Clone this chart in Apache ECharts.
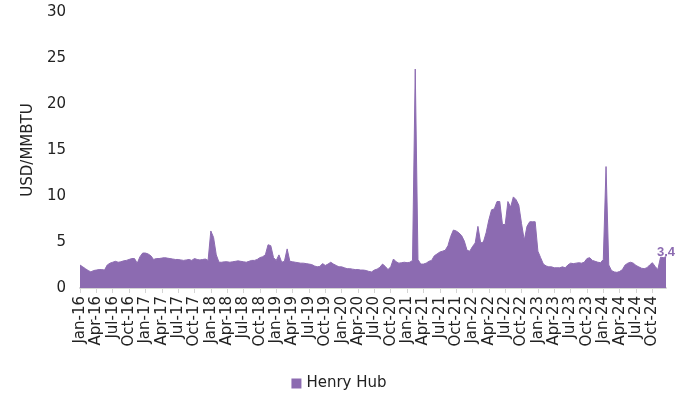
<!DOCTYPE html>
<html>
<head>
<meta charset="utf-8">
<script src="https://cdn.jsdelivr.net/npm/echarts@6/dist/echarts.min.js"></script>
<style>
  html, body { margin: 0; padding: 0; background: #fff; }
  #chart { width: 678px; height: 402px; }
</style>
</head>
<body>
<div id="chart"></div>
<script>
// Henry Hub spot price, USD/MMBTU, two readings per month (1st and 16th), Jan 2016 - Dec 2024
const years = [2016, 2017, 2018, 2019, 2020, 2021, 2022, 2023, 2024];
const monthNames = ['Jan', 'Feb', 'Mar', 'Apr', 'May', 'Jun', 'Jul', 'Aug', 'Sep', 'Oct', 'Nov', 'Dec'];

const price2016 = [2.5, 2.3, 2.1, 1.9, 1.75, 1.9, 1.95, 2.0, 2.0, 1.95, 2.5, 2.7, 2.8, 2.9, 2.8, 2.85, 2.95, 3.0, 3.1, 3.2, 3.2, 2.7, 3.4, 3.8];
const price2017 = [3.8, 3.7, 3.5, 3.1, 3.2, 3.2, 3.25, 3.3, 3.25, 3.2, 3.15, 3.1, 3.1, 3.05, 3.0, 3.05, 3.1, 3.0, 3.2, 3.1, 3.05, 3.1, 3.15, 3.0];
const price2018 = [6.2, 5.5, 3.6, 2.8, 2.8, 2.85, 2.85, 2.8, 2.85, 2.9, 2.95, 2.9, 2.85, 2.8, 2.9, 3.0, 3.0, 3.1, 3.3, 3.4, 3.6, 4.7, 4.6, 3.3];
const price2019 = [3.0, 3.6, 2.8, 2.9, 4.25, 2.9, 2.85, 2.8, 2.75, 2.7, 2.7, 2.65, 2.6, 2.55, 2.4, 2.3, 2.35, 2.65, 2.45, 2.6, 2.8, 2.6, 2.45, 2.3];
const price2020 = [2.3, 2.2, 2.1, 2.1, 2.05, 2.0, 2.0, 1.95, 1.95, 1.9, 1.8, 1.75, 1.95, 2.05, 2.25, 2.6, 2.35, 2.0, 2.3, 3.15, 2.85, 2.7, 2.75, 2.8];
const price2021 = [2.75, 2.8, 3.0, 23.8, 3.1, 2.6, 2.6, 2.7, 2.9, 3.0, 3.5, 3.7, 3.9, 4.0, 4.1, 4.6, 5.6, 6.3, 6.2, 6.0, 5.7, 5.1, 4.1, 4.0];
const price2022 = [4.5, 4.9, 6.7, 4.9, 5.0, 6.0, 7.4, 8.5, 8.6, 9.4, 9.4, 6.9, 6.9, 9.4, 8.8, 9.9, 9.6, 9.0, 7.0, 5.2, 6.7, 7.2, 7.2, 7.2];
const price2023 = [4.0, 3.3, 2.6, 2.4, 2.3, 2.3, 2.2, 2.2, 2.2, 2.3, 2.2, 2.5, 2.7, 2.65, 2.7, 2.75, 2.7, 2.8, 3.2, 3.3, 3.0, 2.9, 2.8, 2.75];
const price2024 = [3.1, 13.2, 2.5, 1.9, 1.75, 1.7, 1.8, 2.0, 2.5, 2.7, 2.8, 2.7, 2.45, 2.3, 2.15, 2.1, 2.2, 2.5, 2.75, 2.35, 2.0, 3.35, 3.3, 3.4];

const prices = [].concat(price2016, price2017, price2018, price2019, price2020,
  price2021, price2022, price2023, price2024);

const categories = [];
years.forEach(y => {
  monthNames.forEach((m, mi) => {
    const mm = String(mi + 1).padStart(2, '0');
    categories.push(y + '-' + mm + '-01');
    categories.push(y + '-' + mm + '-16');
  });
});

const purple = '#8c6bb1';
const font = 'DejaVu Sans';

const quarterStart = (idx, val) => {
  const parts = val.split('-');
  return parts[2] === '01' && (Number(parts[1]) - 1) % 3 === 0;
};

// only the last point carries a (tiny) symbol so its value label is drawn
const seriesData = prices.map((v, i) => {
  if (i !== prices.length - 1) return v;
  return {
    value: v,
    symbol: 'circle',
    symbolSize: 1,
    itemStyle: {color: purple},
    label: {
      show: true,
      position: 'top',
      distance: 0,
      offset: [0, 3],
      formatter: '{c}',
      color: purple,
      fontFamily: 'Liberation Sans',
      fontWeight: 'bold',
      fontSize: 13
    }
  };
});

const chart = echarts.init(document.getElementById('chart'));
chart.setOption({
  animation: false,
  textStyle: {fontFamily: font},
  grid: {left: 80, right: 12, top: 12, bottom: 114},
  legend: {
    bottom: 6,
    left: 'center',
    icon: 'rect',
    itemWidth: 10,
    itemHeight: 10,
    itemGap: 4,
    textStyle: {fontFamily: font, fontSize: 15, color: '#222'},
    data: ['Henry Hub']
  },
  xAxis: {
    type: 'category',
    boundaryGap: false,
    data: categories,
    axisLine: {lineStyle: {color: '#d4d4d4', width: 2}},
    axisTick: {show: true, interval: quarterStart, length: 5, lineStyle: {color: '#d4d4d4'}},
    axisLabel: {
      interval: quarterStart,
      rotate: 90,
      margin: 8,
      fontFamily: font,
      fontSize: 15,
      color: '#222',
      formatter: val => {
        const parts = val.split('-');
        return monthNames[Number(parts[1]) - 1] + '-' + parts[0].slice(2);
      }
    }
  },
  yAxis: {
    type: 'value',
    min: 0,
    max: 30,
    interval: 5,
    name: 'USD/MMBTU',
    nameLocation: 'middle',
    nameGap: 43,
    nameTextStyle: {fontFamily: font, fontSize: 15, color: '#222'},
    axisLine: {show: false},
    axisTick: {show: false},
    splitLine: {show: false},
    axisLabel: {fontFamily: font, fontSize: 15, color: '#222', margin: 14}
  },
  series: [{
    name: 'Henry Hub',
    type: 'line',
    data: seriesData,
    showSymbol: true,
    showAllSymbol: true,
    symbol: 'none',
    color: purple,
    lineStyle: {color: purple, width: 1},
    areaStyle: {color: purple, opacity: 1}
  }]
});
</script>
</body>
</html>
